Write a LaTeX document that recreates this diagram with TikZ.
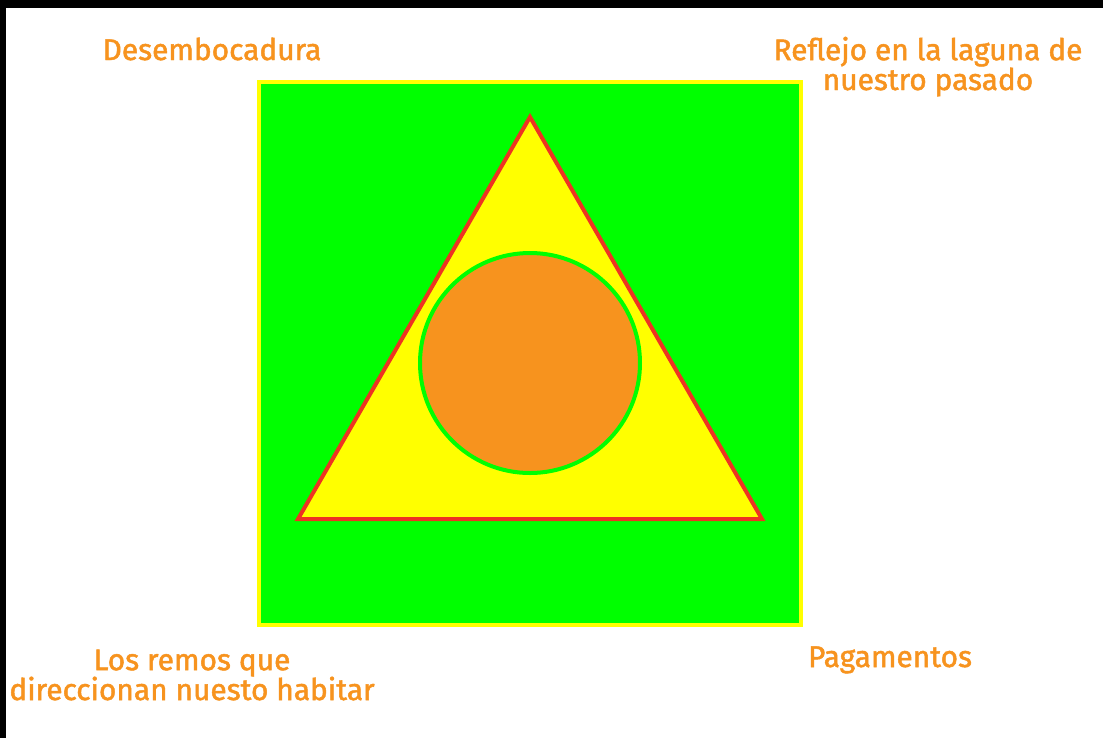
\documentclass[tikz,border=0pt]{standalone}
\usepackage{fontspec}
\setmainfont[FakeBold=1.6]{Fira Sans}
\usepackage{xcolor}
\usepackage{tikz}
\usetikzlibrary{positioning}

\definecolor{lagoongreen}{HTML}{00FF00}
\definecolor{sunyellow}{HTML}{FFFF00}
\definecolor{rimred}{HTML}{EE3322}
\definecolor{coreorange}{HTML}{F7931E}

\begin{document}
\begin{tikzpicture}[
    x=0.02cm, y=-0.02cm,
    label/.style={text=coreorange, font=\fontsize{17}{17}\selectfont, align=center, inner sep=0pt, anchor=base},
    frame/.style={draw=sunyellow, line width=0.07cm, fill=lagoongreen},
    tri/.style={draw=rimred, line width=0.08cm, fill=sunyellow, line join=miter},
    core/.style={draw=lagoongreen, line width=0.08cm, fill=coreorange}
]
\useasboundingbox (0,0) rectangle (1103,738);
\fill[white] (0,0) rectangle (1103,738);
\fill[black] (0,0) rectangle (1103,8);
\fill[black] (0,0) rectangle (6,738);

% shapes
\draw[frame] (259,82) rectangle (801,625);
\draw[tri] (530,117) -- (762,519) -- (298,519) -- cycle;
\draw[core] (530,363) circle[radius=110*0.02cm];

% labels (base = last line)
\node[label] (mouth) at (212,60) {Desembocadura};
\node[label] (reflection) at (928,90) {Reflejo en la laguna de\\nuestro pasado};
\node[label] (oars) at (192,700) {Los remos que\\direccionan nuesto habitar};
\node[label] (offerings) at (890,667) {Pagamentos};
\end{tikzpicture}
\end{document}
